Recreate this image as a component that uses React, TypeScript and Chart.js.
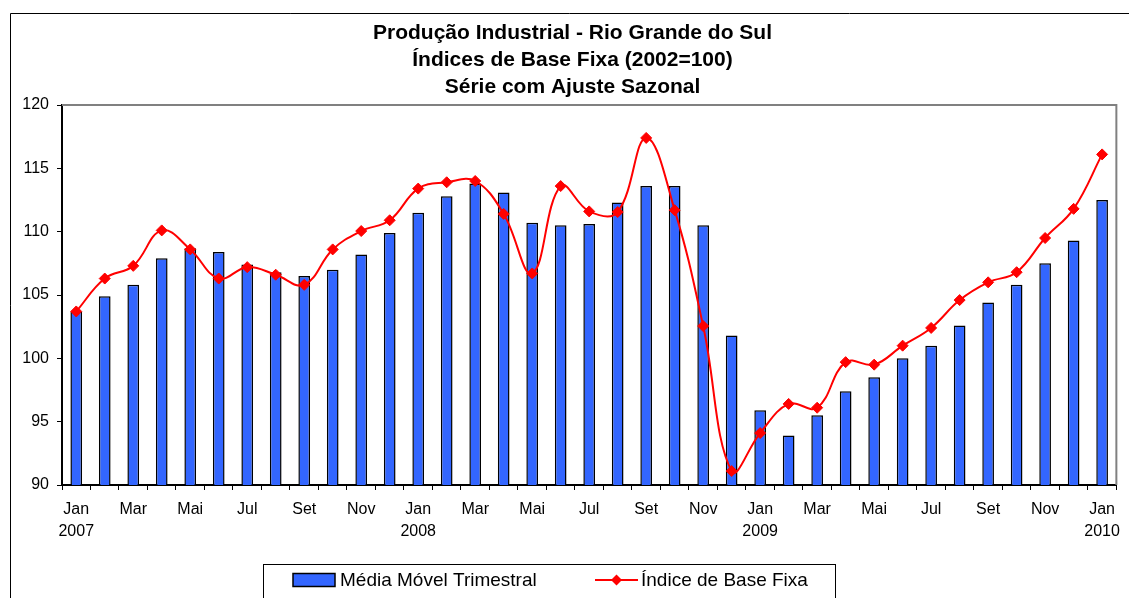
import React, { useEffect, useRef } from 'react';
import { Chart, registerables } from 'chart.js';

Chart.register(...registerables);

const FONT = '"Liberation Sans", Arial, Helvetica, sans-serif';

const titleLines = [
  'Produção Industrial - Rio Grande do Sul',
  'Índices de Base Fixa (2002=100)',
  'Série com Ajuste Sazonal',
];

const months = [
  'Jan', 'Fev', 'Mar', 'Abr', 'Mai', 'Jun', 'Jul', 'Ago', 'Set', 'Out', 'Nov', 'Dez',
  'Jan', 'Fev', 'Mar', 'Abr', 'Mai', 'Jun', 'Jul', 'Ago', 'Set', 'Out', 'Nov', 'Dez',
  'Jan', 'Fev', 'Mar', 'Abr', 'Mai', 'Jun', 'Jul', 'Ago', 'Set', 'Out', 'Nov', 'Dez',
  'Jan',
];

const yearLabels: Record<number, string> = { 0: '2007', 12: '2008', 24: '2009', 36: '2010' };

const mediaMovelTrimestral = [
  103.7, 104.9, 105.8, 107.9, 108.7, 108.4, 107.4, 106.8, 106.5, 107.0, 108.2, 109.9,
  111.5, 112.8, 113.8, 113.1, 110.7, 110.5, 110.6, 112.3, 113.6, 113.6, 110.5, 101.8,
  95.9, 93.9, 95.5, 97.4, 98.5, 100.0, 101.0, 102.6, 104.4, 105.8, 107.5, 109.3,
  112.5,
];

const indiceBaseFixa = [
  103.7, 106.3, 107.3, 110.1, 108.6, 106.3, 107.2, 106.6, 105.8, 108.6, 110.05, 110.9,
  113.4, 113.9, 114.0, 111.4, 106.7, 113.6, 111.6, 111.55, 117.4, 111.7, 102.55, 91.1,
  94.1, 96.4, 96.1, 99.7, 99.5, 101.0, 102.4, 104.6, 106.0, 106.8, 109.5, 111.8,
  116.1,
];

const seriesLabels = ['Média Móvel Trimestral', 'Índice de Base Fixa'];
const BAR_COLOR = '#3366FF';
const LINE_COLOR = '#FF0000';

const framePlugin = {
  id: 'frame',
  beforeDraw(chart: any) {
    const ctx = chart.ctx as CanvasRenderingContext2D;
    ctx.save();
    ctx.fillStyle = '#fff';
    ctx.fillRect(0, 0, chart.width, chart.height);
    ctx.strokeStyle = '#000';
    ctx.lineWidth = 1;
    ctx.beginPath();
    ctx.moveTo(10.5, chart.height);
    ctx.lineTo(10.5, 13.5);
    ctx.lineTo(chart.width, 13.5);
    ctx.stroke();
    ctx.restore();
  },
  afterDraw(chart: any) {
    const ctx = chart.ctx as CanvasRenderingContext2D;
    const a = chart.chartArea;
    ctx.save();
    // plot area border (top and right)
    ctx.strokeStyle = '#808080';
    ctx.lineWidth = 2;
    ctx.beginPath();
    ctx.moveTo(a.left, a.top);
    ctx.lineTo(a.right, a.top);
    ctx.lineTo(a.right, a.bottom);
    ctx.stroke();

    // legend box
    ctx.strokeStyle = '#000';
    ctx.lineWidth = 1;
    ctx.strokeRect(263.5, 564.5, 572, 60);
    const ds = chart.data.datasets;
    const cy = 580;
    // bar swatch
    ctx.fillStyle = BAR_COLOR;
    ctx.fillRect(293, cy - 6.5, 42, 13);
    ctx.lineWidth = 1.5;
    ctx.strokeStyle = '#000';
    ctx.strokeRect(293, cy - 6.5, 42, 13);
    ctx.fillStyle = '#000';
    ctx.font = `19px ${FONT}`;
    ctx.textBaseline = 'middle';
    ctx.textAlign = 'left';
    ctx.fillText(ds[1].label, 340, cy + 1);
    // line swatch
    ctx.strokeStyle = LINE_COLOR;
    ctx.lineWidth = 2;
    ctx.beginPath();
    ctx.moveTo(595, cy);
    ctx.lineTo(638, cy);
    ctx.stroke();
    ctx.fillStyle = LINE_COLOR;
    ctx.beginPath();
    ctx.moveTo(616.5, cy - 5.5);
    ctx.lineTo(622, cy);
    ctx.lineTo(616.5, cy + 5.5);
    ctx.lineTo(611, cy);
    ctx.closePath();
    ctx.fill();
    ctx.fillStyle = '#000';
    ctx.fillText(ds[0].label, 641, cy + 1);
    ctx.restore();
  },
};

export default function App() {
  const ref = useRef<HTMLCanvasElement>(null);

  useEffect(() => {
    const chart = new Chart(ref.current as HTMLCanvasElement, {
      type: 'bar',
      data: {
        labels: months,
        datasets: [
          {
            type: 'line',
            label: seriesLabels[1],
            data: indiceBaseFixa,
            borderColor: LINE_COLOR,
            backgroundColor: LINE_COLOR,
            borderWidth: 2,
            pointStyle: 'rectRot',
            pointRadius: 5.5,
            pointBorderWidth: 1,
            pointBorderColor: LINE_COLOR,
            pointBackgroundColor: LINE_COLOR,
            tension: 0.4,
            order: 0,
          } as any,
          {
            type: 'bar',
            label: seriesLabels[0],
            data: mediaMovelTrimestral,
            backgroundColor: BAR_COLOR,
            borderColor: '#000',
            borderWidth: 1.5,
            barPercentage: 0.41,
            categoryPercentage: 1,
            order: 1,
          } as any,
        ],
      },
      options: {
        responsive: false,
        animation: false,
        layout: { padding: { left: 20, right: 4, top: 0, bottom: 0 } },
        plugins: {
          legend: { display: false },
          tooltip: { enabled: false },
          title: {
            display: true,
            text: titleLines,
            color: '#000',
            font: { family: FONT, size: 21, weight: 'bold', lineHeight: '27px' } as any,
            padding: { top: 19.5, bottom: 4.5 },
          },
        },
        scales: {
          x: {
            grid: {
              offset: true,
              drawOnChartArea: false,
              drawTicks: true,
              tickLength: 5,
              tickColor: '#000',
              tickWidth: 1,
            },
            border: { color: '#000', width: 2 },
            ticks: {
              autoSkip: false,
              maxRotation: 0,
              minRotation: 0,
              padding: 9,
              color: '#000',
              font: { family: FONT, size: 16, lineHeight: '22px' } as any,
              callback: (_v: any, i: number) => {
                if (i % 2 !== 0) return '';
                return yearLabels[i] ? [months[i], yearLabels[i]] : months[i];
              },
            },
            afterFit: (s: any) => {
              s.height = 113;
            },
          },
          y: {
            min: 90,
            max: 120,
            grid: {
              drawOnChartArea: false,
              drawTicks: true,
              tickLength: 5,
              tickColor: '#000',
              tickWidth: 1,
            },
            border: { color: '#000', width: 2 },
            ticks: {
              stepSize: 5,
              padding: 8,
              color: '#000',
              font: { family: FONT, size: 16 },
            },
            afterFit: (s: any) => {
              s.width = 42;
            },
          },
        },
      } as any,
      plugins: [framePlugin],
    });
    return () => chart.destroy();
  }, []);

  return (
    <div style={{ position: 'absolute', left: 0, top: 0, width: 1129, height: 598 }}>
      <canvas ref={ref} width={1129} height={598} style={{ display: 'block' }} />
    </div>
  );
}
